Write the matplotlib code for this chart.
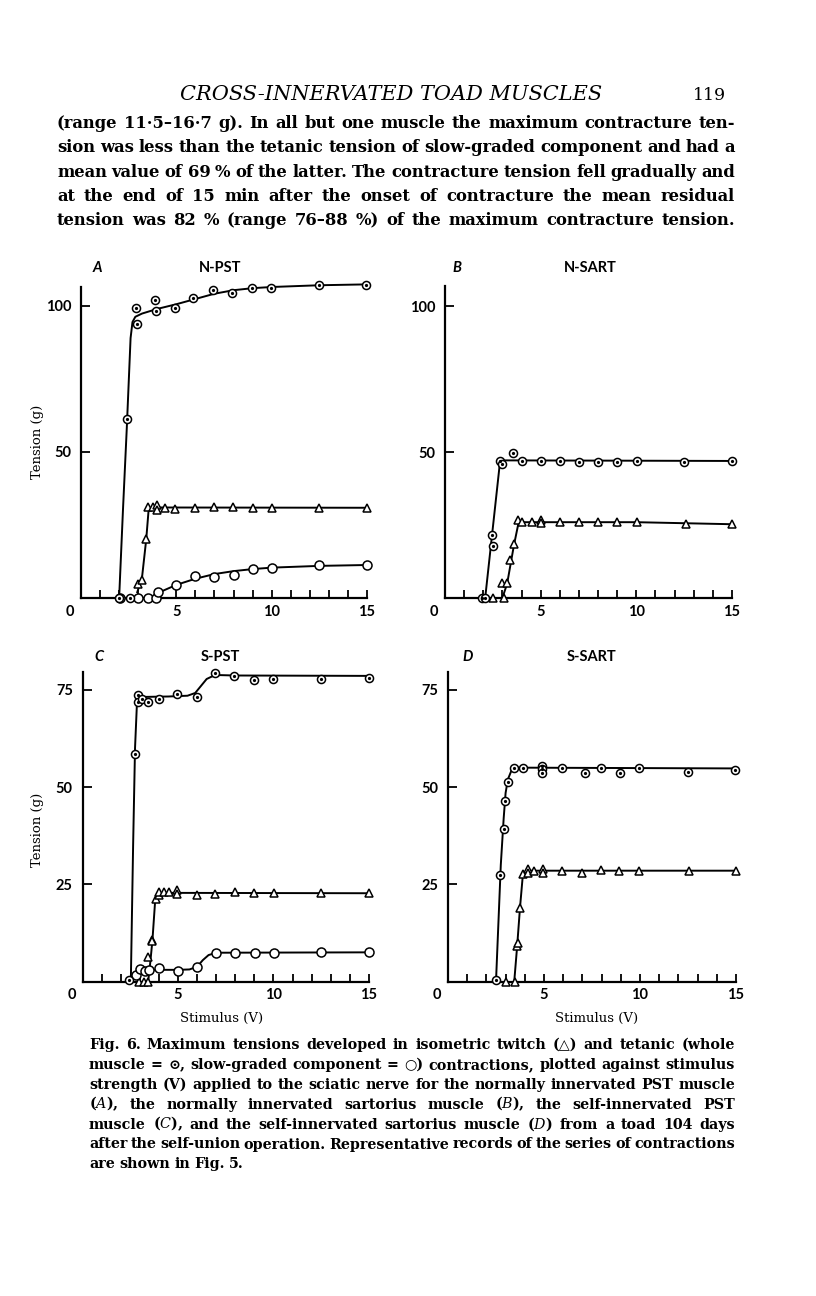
import matplotlib
matplotlib.use("Agg")
import matplotlib.pyplot as plt

# -----------------------------------------
# Data (stimulus V, tension g)
# -----------------------------------------
# A: N-PST
a_whole_x = [2.0, 2.55, 2.41, 2.9, 2.93, 3.89, 3.94, 4.94, 5.9, 6.9, 7.94, 8.95, 9.95, 12.48, 14.97]
a_whole_y = [0, 0, 61.2, 99.4, 93.7, 102.2, 98.2, 99.4, 102.7, 105.5, 104.5, 106.2, 106.2, 107.3, 107.3]
a_whole_cx = [2.0, 2.2, 2.4, 2.6, 2.7, 2.85, 3.2, 4, 5, 6, 7, 8, 9, 10, 12.5, 15]
a_whole_cy = [0, 30, 58, 89, 94.5, 96.3, 97.4, 99, 100.6, 102.4, 104.2, 105.4, 106.1, 106.5, 107.1, 107.4]
a_twitch_x = [2.97, 3.19, 3.42, 3.5, 3.75, 3.98, 4.0, 4.4, 4.94, 5.99, 6.98, 7.99, 9.0, 10.0, 12.5, 15.0]
a_twitch_y = [4.9, 6.0, 20.3, 31.2, 31.2, 32.0, 30.3, 30.9, 30.6, 30.9, 31.1, 31.1, 30.9, 30.9, 30.9, 30.9]
a_twitch_cx = [2.95, 3.1, 3.2, 3.42, 3.55, 3.7, 15]
a_twitch_cy = [2, 5, 7, 20, 30.5, 31, 30.9]
a_slow_x = [2.05, 3.0, 3.5, 3.95, 4.03, 4.97, 5.99, 6.98, 8.03, 9.0, 10.0, 12.5, 15.0]
a_slow_y = [0, 0, 0, 0, 2.1, 4.3, 7.5, 7.2, 7.8, 9.8, 10.3, 11.2, 11.2]
a_slow_cx = [3.8, 4.2, 5, 6, 7, 8, 9, 10, 12.5, 15]
a_slow_cy = [0, 2.2, 4.5, 6.6, 8.2, 9.2, 9.9, 10.4, 11.0, 11.3]

# B: N-SART
b_whole_x = [1.92, 2.09, 2.44, 2.5, 2.88, 2.97, 3.53, 4.01, 5.01, 6.02, 6.98, 7.99, 8.99, 10.03, 12.5, 15.0]
b_whole_y = [0, 0, 21.7, 17.9, 47, 45.8, 49.8, 47, 47, 47, 46.8, 46.8, 46.5, 47, 46.8, 47]
b_whole_cx = [2.1, 2.88, 3.0, 15]
b_whole_cy = [0, 47, 47.2, 47]
b_twitch_x = [2.5, 3.09, 2.97, 3.26, 3.4, 3.61, 3.79, 4.01, 4.54, 5.01, 5.01, 6.02, 7.0, 8.0, 9.0,
              10.03, 12.6, 15.0]
b_twitch_y = [0, 0, 5.1, 5.1, 13, 18.5, 26.6, 25.9, 25.9, 26.8, 25.7, 25.9, 25.9, 26.2, 26.0,
              26.0, 25.3, 25.3]
b_twitch_cx = [3.0, 3.25, 3.6, 3.85, 10, 15]
b_twitch_cy = [0, 5, 18, 26, 26, 25.3]

# C: S-PST
c_whole_x = [2.44, 2.74, 2.93, 2.93, 3.14, 3.45, 3.98, 4.97, 5.99, 6.95, 7.94, 8.99, 9.98, 12.5, 15.0]
c_whole_y = [0.3, 58.4, 73.7, 71.9, 72.7, 71.9, 72.7, 74.0, 73.1, 79.4, 78.5, 77.6, 77.7, 77.7, 78.0]
c_whole_cx = [2.53, 2.65, 2.75, 2.85, 2.95, 3.3, 4.5, 5.5, 5.9, 6.2, 6.5, 6.8, 7.2, 8, 15]
c_whole_cy = [0, 35, 60, 71.5, 72.8, 73.2, 73.3, 73.5, 74.2, 76, 77.8, 78.5, 78.8, 78.7, 78.6]
c_twitch_x = [2.97, 3.23, 3.44, 3.44, 3.66, 3.66, 3.84, 3.98, 4.0, 4.28, 4.54, 4.97, 4.97, 5.99,
              6.95, 7.98, 8.99, 10.03, 12.5, 15.0]
c_twitch_y = [0, 0, 0, 6.4, 10.7, 10.3, 21.1, 22.2, 23.1, 22.9, 22.9, 23.5, 22.5, 22.2,
              22.5, 22.9, 22.8, 22.7, 22.7, 22.7]
c_twitch_cx = [3.44, 3.55, 3.66, 3.8, 3.95, 4.2, 15]
c_twitch_cy = [0, 5, 10.5, 20.5, 22.6, 22.8, 22.7]
c_slow_x = [2.79, 3.0, 3.26, 3.49, 4.01, 5.0, 5.99, 6.98, 7.99, 9.03, 10.03, 12.5, 15.0]
c_slow_y = [1.7, 3.2, 2.8, 3.0, 3.4, 2.6, 3.7, 7.4, 7.4, 7.4, 7.3, 7.5, 7.7]
c_slow_cx = [2.6, 2.8, 3.0, 3.3, 5.0, 5.6, 6.0, 6.3, 6.6, 7.0, 15]
c_slow_cy = [0, 1.8, 2.7, 3.0, 3.0, 3.1, 3.8, 5.5, 6.8, 7.4, 7.5]

# D: S-SART
d_whole_x = [2.48, 2.69, 2.91, 2.95, 3.12, 3.43, 3.9, 4.9, 4.9, 4.9, 5.93, 7.16, 7.97, 8.96, 9.93,
             12.48, 14.96]
d_whole_y = [0.4, 27.4, 39.2, 46.5, 51.2, 55, 54.8, 55.4, 54.6, 53.7, 54.8, 53.7, 54.8, 53.7, 54.8,
             53.8, 54.4]
d_whole_cx = [2.5, 2.75, 2.9, 3.0, 3.12, 3.3, 3.6, 15]
d_whole_cy = [0, 30, 42, 48.5, 52, 54.2, 55, 54.8]
d_twitch_x = [3.0, 3.47, 3.59, 3.64, 3.76, 3.93, 4.16, 4.16, 4.5, 4.94, 4.94, 5.94, 6.98, 7.97,
              8.93, 9.93, 12.53, 15.0]
d_twitch_y = [0, 0, 9.2, 9.8, 19, 27.6, 28.9, 28, 28.5, 29, 27.9, 28.5, 28, 28.7, 28.5, 28.5,
              28.5, 28.5]
d_twitch_cx = [3.45, 3.6, 3.75, 3.9, 4.1, 15]
d_twitch_cy = [0, 9, 19, 27.5, 28.5, 28.5]

# page text
header = "CROSS-INNERVATED TOAD MUSCLES"
page_no = "119"
para = [
    "(range 11·5–16·7 g). In all but one muscle the maximum contracture ten-",
    "sion was less than the tetanic tension of slow-graded component and had a",
    "mean value of 69 % of the latter. The contracture tension fell gradually and",
    "at the end of 15 min after the onset of contracture the mean residual",
    "tension was 82 % (range 76–88 %) of the maximum contracture tension.",
]
caption = [
    "Fig. 6. Maximum tensions developed in isometric twitch (△) and tetanic (whole",
    "muscle = ⊙, slow-graded component = ○) contractions, plotted against stimulus",
    "strength (V) applied to the sciatic nerve for the normally innervated PST muscle",
    r"($\mathit{A}$), the normally innervated sartorius muscle ($\mathit{B}$), the self-innervated PST",
    r"muscle ($\mathit{C}$), and the self-innervated sartorius muscle ($\mathit{D}$) from a toad 104 days",
    "after the self-union operation. Representative records of the series of contractions",
    "are shown in Fig. 5.",
]

# -----------------------------------------
# Figure
# -----------------------------------------
W, H = 816, 1296
plt.rcParams["mathtext.fontset"] = "custom"
plt.rcParams["mathtext.it"] = "DejaVu Serif:italic"
plt.rcParams["mathtext.rm"] = "DejaVu Serif"
SERIF = ["DejaVu Serif", "DejaVu Sans"]
SANS = "Lato"

fig = plt.figure(figsize=(W / 100, H / 100), dpi=100)
fig.canvas.draw()
renderer = fig.canvas.get_renderer()


def px_axes(left, top, right, bottom):
    return fig.add_axes([left / W, 1 - bottom / H, (right - left) / W, (bottom - top) / H])


def style_axes(ax, ytop, yticks):
    ax.set_xlim(0, 15)
    ax.set_ylim(0, ytop)
    for s in ["top", "right"]:
        ax.spines[s].set_visible(False)
    for s in ["left", "bottom"]:
        ax.spines[s].set_linewidth(1.6)
    ax.set_xticks(range(1, 16))
    ax.set_xticklabels(["5" if i == 5 else "10" if i == 10 else "15" if i == 15 else "" for i in range(1, 16)])
    ax.set_yticks(yticks)
    ax.set_yticklabels([str(v) for v in yticks])
    ax.tick_params(axis="x", direction="in", length=5.5, width=1.3, pad=5)
    ax.tick_params(axis="y", direction="in", length=6.5, width=1.3, pad=7)
    for lab in ax.get_xticklabels() + ax.get_yticklabels():
        lab.set_fontfamily(SANS)
        lab.set_fontweight("bold")
        lab.set_fontsize(10.5)
    ax.annotate("0", xy=(0, 0), xycoords="data", xytext=(-8, -5), textcoords="offset points",
                ha="center", va="top", fontfamily=SANS, fontweight="bold", fontsize=10.5)
    ax.patch.set_alpha(0)


def curve(ax, x, y):
    ax.plot(x, y, color="black", lw=1.4, zorder=2, clip_on=False)


def whole(ax, x, y):
    ax.plot(x, y, "o", ms=5.8, mfc="white", mec="black", mew=1.1, zorder=4, clip_on=False)
    ax.plot(x, y, "o", ms=1.3, color="black", zorder=5, clip_on=False)


def slow(ax, x, y):
    ax.plot(x, y, "o", ms=6.5, mfc="white", mec="black", mew=1.1, zorder=3, clip_on=False)


def twitch(ax, x, y):
    ax.plot(x, y, "^", ms=6.2, mfc="white", mec="black", mew=1.1, zorder=3, clip_on=False)


axA = px_axes(81, 287, 367, 598)
axB = px_axes(445, 286, 732, 598)
axC = px_axes(82.5, 672, 369, 981.5)
axD = px_axes(448, 672, 736, 981.5)

style_axes(axA, 106.5, [50, 100])
style_axes(axB, 107, [50, 100])
style_axes(axC, 79.6, [25, 50, 75])
style_axes(axD, 79.6, [25, 50, 75])

curve(axA, a_whole_cx, a_whole_cy)
curve(axA, a_twitch_cx, a_twitch_cy)
curve(axA, a_slow_cx, a_slow_cy)
whole(axA, a_whole_x, a_whole_y)
twitch(axA, a_twitch_x, a_twitch_y)
slow(axA, a_slow_x, a_slow_y)

curve(axB, b_whole_cx, b_whole_cy)
curve(axB, b_twitch_cx, b_twitch_cy)
whole(axB, b_whole_x, b_whole_y)
twitch(axB, b_twitch_x, b_twitch_y)

curve(axC, c_whole_cx, c_whole_cy)
curve(axC, c_twitch_cx, c_twitch_cy)
curve(axC, c_slow_cx, c_slow_cy)
whole(axC, c_whole_x, c_whole_y)
twitch(axC, c_twitch_x, c_twitch_y)
slow(axC, c_slow_x, c_slow_y)

curve(axD, d_whole_cx, d_whole_cy)
curve(axD, d_twitch_cx, d_twitch_cy)
whole(axD, d_whole_x, d_whole_y)
twitch(axD, d_twitch_x, d_twitch_y)


def ftext(x, y, s, **kw):
    return fig.text(x / W, 1 - y / H, s, **kw)


# panel letters and titles
for lx, tx, y, letter, title in [(97, 220, 268, "A", "N-PST"), (457, 590, 268, "B", "N-SART"),
                                 (99, 220, 657, "C", "S-PST"), (468, 592, 657, "D", "S-SART")]:
    ftext(lx, y, letter, ha="center", va="center", fontfamily=SANS, fontweight="bold",
          fontstyle="italic", fontsize=10.5)
    ftext(tx, y, title, ha="center", va="center", fontfamily=SANS, fontweight="bold", fontsize=10.5)

# axis labels
ftext(37, 442, "Tension (g)", rotation=90, ha="center", va="center", fontfamily=SERIF, fontsize=9.5)
ftext(37, 830, "Tension (g)", rotation=90, ha="center", va="center", fontfamily=SERIF, fontsize=9.5)
ftext(222, 1018, "Stimulus (V)", ha="center", va="center", fontfamily=SERIF, fontsize=9.5)
ftext(597, 1018, "Stimulus (V)", ha="center", va="center", fontfamily=SERIF, fontsize=9.5)


def justify(line, y, x0, x1, size, last=False, **kw):
    words = line.split(" ")
    ts = [ftext(0, y, w, fontsize=size, ha="left", va="baseline", fontfamily=SERIF, **kw) for w in words]
    widths = [t.get_window_extent(renderer).width for t in ts]
    if last or len(words) == 1:
        gap = size * 0.3 * 100 / 72
    else:
        gap = (x1 - x0 - sum(widths)) / (len(words) - 1)
    x = x0
    for t, w in zip(ts, widths):
        t.set_x(x / W)
        x += w + gap


# running header
ftext(391, 100, header, ha="center", va="baseline", fontfamily=SERIF, fontstyle="italic", fontsize=15)
ftext(726, 100, page_no, ha="right", va="baseline", fontfamily=SERIF, fontsize=12.5)

# paragraph
for i, line in enumerate(para):
    justify(line, 128 + 24.3 * i, 57, 735, 11.8, fontweight="bold")

# caption
for i, line in enumerate(caption):
    justify(line, 1049 + 19.9 * i, 89, 735, 10.3, last=(i == len(caption) - 1), fontweight="bold")

fig.savefig("out.png", dpi=100)
